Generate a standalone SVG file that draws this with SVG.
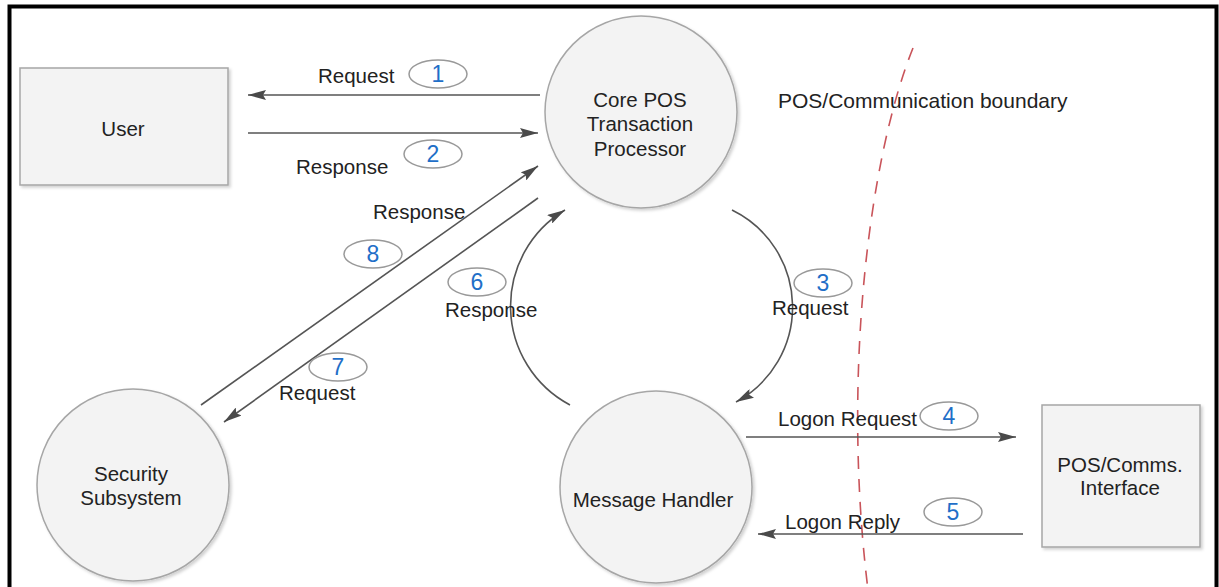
<svg xmlns="http://www.w3.org/2000/svg" width="1219" height="587" viewBox="0 0 1219 587">
<style>
.node{fill:#f3f3f3;stroke:#a6a6a6;stroke-width:1.5}
.t{font-family:"Liberation Sans",Arial,sans-serif;font-size:20.5px;fill:#222}
.c{text-anchor:middle}
.ln{stroke:#555;stroke-width:1.6;fill:none}
.ov{fill:#fff;stroke:#999;stroke-width:1.5}
.n{font-family:"Liberation Sans",Arial,sans-serif;font-size:23px;fill:#1f6fc8;text-anchor:middle}
</style>
<defs>
<marker id="ah" viewBox="0 0 18 10" refX="18" refY="5" markerWidth="18" markerHeight="10" markerUnits="userSpaceOnUse" orient="auto">
<path d="M0,0 L18,5 L0,10 L3,5 z" fill="#4a4a4a"/>
</marker>
<filter id="sh" x="-10%" y="-10%" width="125%" height="125%">
<feDropShadow dx="2" dy="2" stdDeviation="1.5" flood-color="#000" flood-opacity="0.18"/>
</filter>
</defs>
<rect width="1219" height="587" fill="#fff"/>
<path d="M9.5,590 V6.5 H1216.5 V590" fill="none" stroke="#000" stroke-width="4"/>

<path d="M913,48 C868,160 842,380 868,590" fill="none" stroke="#c9545a" stroke-width="1.6" stroke-dasharray="13,10"/>
<text class="t" x="778" y="108" style="font-size:21px">POS/Communication boundary</text>

<g id="connectors">
<line class="ln" x1="540" y1="95" x2="248" y2="95" marker-end="url(#ah)"/>
<line class="ln" x1="248" y1="133" x2="538" y2="133" marker-end="url(#ah)"/>
<line class="ln" x1="201" y1="405" x2="538" y2="166" marker-end="url(#ah)"/>
<line class="ln" x1="538" y1="198" x2="224" y2="422" marker-end="url(#ah)"/>
<path class="ln" d="M570,405 A112,112 0 0 1 565,210" marker-end="url(#ah)"/>
<path class="ln" d="M732,210 A108,108 0 0 1 736,402" marker-end="url(#ah)"/>
<line class="ln" x1="746" y1="437" x2="1016" y2="437" marker-end="url(#ah)"/>
<line class="ln" x1="1023" y1="534" x2="758" y2="534" marker-end="url(#ah)"/>

<text class="t" x="318" y="83">Request</text>
<ellipse class="ov" cx="438" cy="74" rx="29" ry="14"/><text class="n" x="438" y="82">1</text>
<text class="t" x="296" y="174">Response</text>
<ellipse class="ov" cx="433" cy="154" rx="29" ry="14"/><text class="n" x="433" y="162">2</text>
<ellipse class="ov" cx="823" cy="283" rx="29" ry="14"/><text class="n" x="823" y="291">3</text>
<text class="t" x="772" y="315">Request</text>
<ellipse class="ov" cx="949" cy="416" rx="29" ry="14"/><text class="n" x="949" y="424">4</text>
<text class="t" x="778" y="426">Logon Request</text>
<ellipse class="ov" cx="953" cy="512" rx="29" ry="14"/><text class="n" x="953" y="520">5</text>
<text class="t" x="785" y="529">Logon Reply</text>
<ellipse class="ov" cx="477" cy="282" rx="29" ry="14"/><text class="n" x="477" y="290">6</text>
<text class="t" x="445" y="317">Response</text>
<ellipse class="ov" cx="338" cy="367" rx="29" ry="14"/><text class="n" x="338" y="375">7</text>
<text class="t" x="279" y="400">Request</text>
<text class="t" x="373" y="219">Response</text>
<ellipse class="ov" cx="373" cy="254" rx="29" ry="14"/><text class="n" x="373" y="262">8</text>
</g>

<g id="user">
<rect class="node" x="20" y="68" width="208" height="117" filter="url(#sh)"/>
<text class="t c" x="123" y="136">User</text>
</g>
<g id="core">
<circle class="node" cx="641" cy="112" r="96" filter="url(#sh)"/>
<text class="t c" x="640" y="107">Core POS</text>
<text class="t c" x="640" y="131">Transaction</text>
<text class="t c" x="640" y="156">Processor</text>
</g>
<g id="security">
<circle class="node" cx="133" cy="485" r="96" filter="url(#sh)"/>
<text class="t c" x="131" y="481">Security</text>
<text class="t c" x="131" y="505">Subsystem</text>
</g>
<g id="handler">
<circle class="node" cx="656" cy="487" r="96" filter="url(#sh)"/>
<text class="t c" x="653" y="507">Message Handler</text>
</g>
<g id="comms">
<rect class="node" x="1042" y="405" width="158" height="142" filter="url(#sh)"/>
<text class="t c" x="1120" y="472">POS/Comms.</text>
<text class="t c" x="1120" y="495">Interface</text>
</g>
</svg>
